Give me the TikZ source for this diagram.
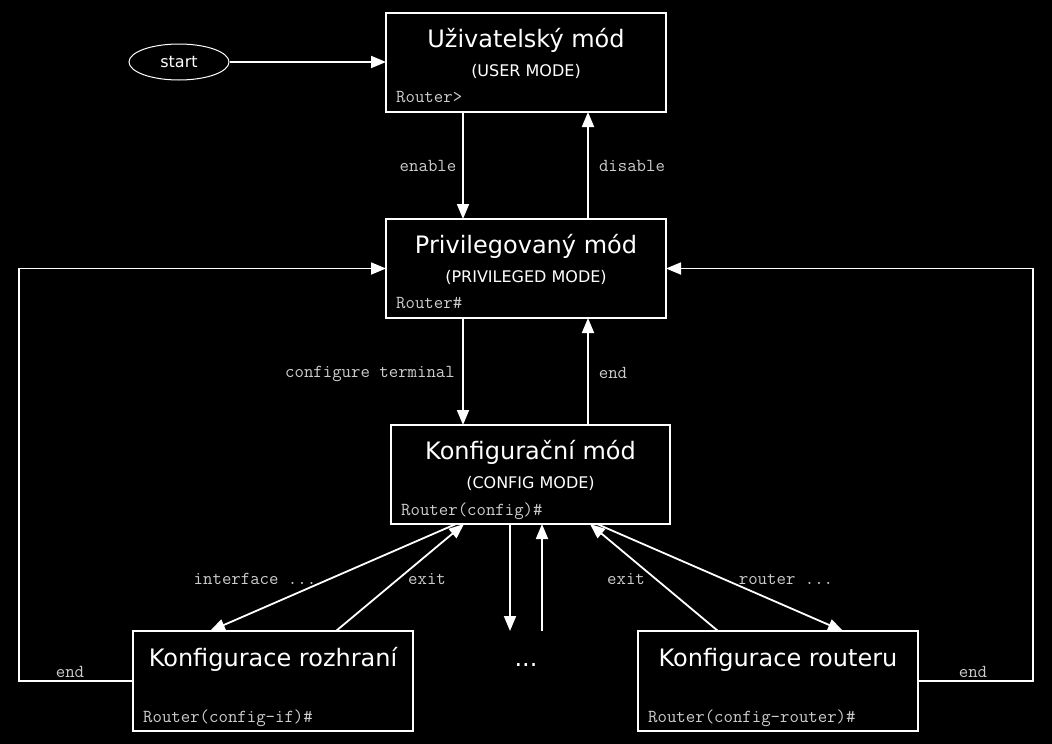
\documentclass[tikz,border=0pt]{standalone}
\usepackage{fontspec}
\setmainfont{DejaVu Sans}
\usetikzlibrary{arrows.meta,shapes.geometric}
\definecolor{lbl}{RGB}{205,205,205}
\tikzset{
  modebox/.style={draw=white, line width=1.8pt, fill=black, rectangle, minimum width=280pt, minimum height=99pt, inner sep=0pt, outer sep=0pt},
  ttl/.style={text=white, font=\fontsize{24pt}{28pt}\selectfont, anchor=base, inner sep=0pt},
  sub/.style={text=white, font=\fontsize{16pt}{19pt}\selectfont, anchor=base, inner sep=0pt},
  prompt/.style={text=lbl, font=\ttfamily\fontsize{18.3pt}{21pt}\selectfont, anchor=base west, inner sep=0pt},
  lab/.style={text=lbl, font=\ttfamily\fontsize{18.3pt}{21pt}\selectfont, anchor=base, inner sep=0pt},
  arr/.style={draw=white, line width=1.8pt, -{Triangle[length=15pt,width=12pt]}},
}
\begin{document}
\begin{tikzpicture}[x=1pt,y=-1pt]
\fill[black] (0,0) rectangle (1052,744);
\useasboundingbox (0,0) rectangle (1052,744);

% boxes
\node[modebox] (user) at (526,62.5) {};
\node[modebox] (priv) at (526,268.5) {};
\node[modebox, minimum width=279pt] (conf) at (530.5,474.5) {};
\node[modebox, minimum height=100pt] (iface) at (273,681) {};
\node[modebox, minimum height=100pt] (rout) at (778,681) {};
\node[draw=white, line width=1pt, ellipse, minimum width=100pt, minimum height=36pt, inner sep=0pt, text=white, font=\fontsize{16pt}{19pt}\selectfont] (start) at (179,62) {start};
\node[ttl] (dots) at (526,666) {...};
\coordinate (dd) at (510,631);
\coordinate (du) at (542,631);

% box texts
\node[ttl] (t1) at (526,47) {Uživatelský mód};
\node[sub] (s1) at (526,76) {(USER MODE)};
\node[prompt] (p1) at (396,102) {Router>};
\node[ttl] (t2) at (526,253) {Privilegovaný mód};
\node[sub] (s2) at (526,282) {(PRIVILEGED MODE)};
\node[prompt] (p2) at (396,308) {Router\#};
\node[ttl] (t3) at (530.5,459) {Konfigurační mód};
\node[sub] (s3) at (530.5,488) {(CONFIG MODE)};
\node[prompt] (p3) at (401,515) {Router(config)\#};
\node[ttl] (t4) at (273,666) {Konfigurace rozhraní};
\node[prompt] (p4) at (143,722) {Router(config-if)\#};
\node[ttl] (t5) at (778,666) {Konfigurace routeru};
\node[prompt] (p5) at (648,722) {Router(config-router)\#};

% connectors
\draw[arr] (start.east) -- (user.west |- start.east);
\draw[arr] ([xshift=77pt]user.south west) -- ([xshift=77pt]priv.north west);
\draw[arr] ([xshift=202pt]priv.north west) -- ([xshift=202pt]user.south west);
\draw[arr] ([xshift=77pt]priv.south west) -- ([xshift=72pt]conf.north west);
\draw[arr] ([xshift=197pt]conf.north west) -- ([xshift=202pt]priv.south west);
\draw[arr] (iface.west) -- ++(-114,0) |- (priv.west);
\draw[arr] (rout.east) -- ++(115,0) |- (priv.east);
\draw[arr] ([xshift=65pt]conf.south west) -- ([xshift=77pt]iface.north west);
\draw[arr] ([xshift=203pt]iface.north west) -- ([xshift=73pt]conf.south west);
\draw[arr] ([xshift=119pt]conf.south west) -- (dd);
\draw[arr] (du) -- ([xshift=151pt]conf.south west);
\draw[arr] ([xshift=80pt]rout.north west) -- ([xshift=199pt]conf.south west);
\draw[arr] ([xshift=206pt]conf.south west) -- ([xshift=205pt]rout.north west);

% labels
\node[lab] (l1) at (428,171) {enable};
\node[lab] (l2) at (632,171) {disable};
\node[lab] (l3) at (370,377) {configure terminal};
\node[lab] (l4) at (613,378) {end};
\node[lab] (l5) at (255,584) {interface ...};
\node[lab] (l6) at (427,584) {exit};
\node[lab] (l7) at (626,584) {exit};
\node[lab] (l8) at (786,584) {router ...};
\node[lab] (l9) at (70,677) {end};
\node[lab] (l10) at (973,677) {end};
\end{tikzpicture}
\end{document}
